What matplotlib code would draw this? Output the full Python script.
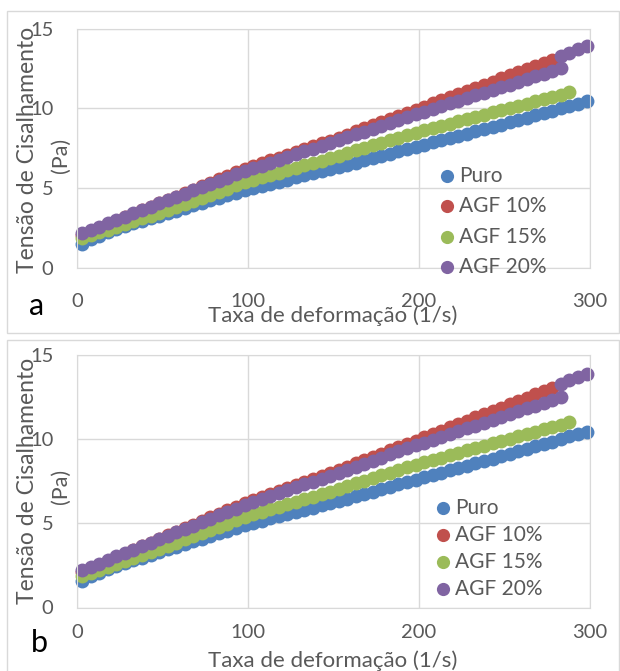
import matplotlib
matplotlib.use("Agg")
import matplotlib.pyplot as plt
from matplotlib.patches import Rectangle

W, H = 620, 671
INK = "#595959"
GRID = "#d9d9d9"
COLORS = ["#4f81bd", "#c0504d", "#9bbb59", "#8064a2"]
NAMES = ["Puro", "AGF 10%", "AGF 15%", "AGF 20%"]

plt.rcParams.update({"font.family": "Lato", "font.size": 14,
                     "text.color": INK})

# shear rate (1/s)
RATE = [3, 8, 13, 18, 23, 28, 33, 38, 43, 48, 53, 58, 63, 68, 73, 78, 83, 88,
        93, 98, 103, 108, 113, 118, 123, 128, 133, 138, 143, 148, 153, 158,
        163, 168, 173, 178, 183, 188, 193, 198, 203, 208, 213, 218, 223, 228,
        233, 238, 243, 248, 253, 258, 263, 268, 273, 278, 283, 288, 293, 298]

# shear stress (Pa)
PURO = [1.55, 1.85, 2.05, 2.26, 2.47, 2.65, 2.81, 2.97, 3.13, 3.29,
        3.45, 3.61, 3.77, 3.93, 4.09, 4.25, 4.41, 4.57, 4.73, 4.89,
        5.03, 5.16, 5.29, 5.42, 5.55, 5.68, 5.81, 5.94, 6.07, 6.20,
        6.33, 6.47, 6.61, 6.75, 6.89, 7.03, 7.17, 7.31, 7.45, 7.59,
        7.73, 7.87, 8.01, 8.15, 8.29, 8.43, 8.57, 8.71, 8.85, 8.99,
        9.13, 9.28, 9.43, 9.57, 9.72, 9.86, 10.01, 10.16, 10.30, 10.45]
AGF10 = [2.10, 2.32, 2.54, 2.75, 2.97, 3.19, 3.41, 3.63, 3.84, 4.06,
         4.28, 4.49, 4.71, 4.92, 5.14, 5.35, 5.57, 5.78, 6.00, 6.21,
         6.41, 6.58, 6.76, 6.93, 7.11, 7.28, 7.46, 7.63, 7.81, 7.98,
         8.17, 8.36, 8.56, 8.75, 8.95, 9.14, 9.34, 9.53, 9.73, 9.92,
         10.12, 10.31, 10.51, 10.70, 10.90, 11.09, 11.29, 11.49, 11.68, 11.88,
         12.07, 12.27, 12.46, 12.66, 12.85, 13.05]
AGF15 = [1.88, 2.06, 2.24, 2.41, 2.59, 2.77, 2.94, 3.12, 3.30, 3.48,
         3.66, 3.85, 4.04, 4.23, 4.42, 4.61, 4.80, 4.99, 5.18, 5.37,
         5.54, 5.69, 5.84, 5.99, 6.14, 6.29, 6.44, 6.59, 6.74, 6.89,
         7.05, 7.21, 7.37, 7.53, 7.69, 7.85, 8.01, 8.17, 8.33, 8.49,
         8.63, 8.77, 8.91, 9.05, 9.19, 9.33, 9.47, 9.61, 9.75, 9.89,
         10.02, 10.16, 10.30, 10.44, 10.58, 10.72, 10.86, 11.00]
AGF20 = [2.20, 2.41, 2.61, 2.82, 3.03, 3.24, 3.44, 3.65, 3.86, 4.07,
         4.27, 4.47, 4.67, 4.87, 5.07, 5.27, 5.47, 5.67, 5.87, 6.07,
         6.26, 6.43, 6.61, 6.78, 6.96, 7.13, 7.31, 7.48, 7.66, 7.83,
         8.01, 8.19, 8.37, 8.55, 8.73, 8.91, 9.09, 9.27, 9.45, 9.63,
         9.80, 9.97, 10.14, 10.31, 10.48, 10.65, 10.81, 10.98, 11.15, 11.32,
         11.49, 11.66, 11.83, 12.00, 12.16, 12.33, 12.50]
# extra AGF 20% points sitting on the upper branch at the end of the sweep
AGF20_TAIL_X = [283, 288, 293, 298]
AGF20_TAIL_Y = [13.30, 13.49, 13.69, 13.88]

X_TICKS = [0, 100, 200, 300]
Y_TICKS = [0, 5, 10, 15]


def fx(px):
    return px / W


def fy(py):
    return 1 - py / H


fig = plt.figure(figsize=(W / 100, H / 100), dpi=100)

# panel geometry in pixels
panels = [
    dict(box=(7, 11.5, 619, 333), top=28.5, bot=268.3, tick_y=302,
         xlab_y=316, tag="a", tag_xy=(37, 306), leg=(176, 30.3, 447),
         ylab_c=150),
    dict(box=(7, 340, 619, 680), top=355, bot=607.5, tick_y=633,
         xlab_y=661, tag="b", tag_xy=(39, 643), leg=(508, 27, 443),
         ylab_c=481),
]
series = [(RATE, PURO), (RATE, AGF10), (RATE, AGF15),
          (RATE[:len(AGF20)] + AGF20_TAIL_X, AGF20 + AGF20_TAIL_Y)]

for p in panels:
    x0, y0, x1, y1 = p["box"]
    fig.patches.append(Rectangle((fx(x0), fy(y1)), fx(x1 - x0), (y1 - y0) / H,
                                 transform=fig.transFigure, fill=False,
                                 ec=GRID, lw=1.0))
    ax = fig.add_axes([fx(77), fy(p["bot"]), fx(590 - 77),
                       (p["bot"] - p["top"]) / H])
    for (xs, ys), c in zip(series, COLORS):
        ax.plot(xs[:len(ys)], ys, "o", ms=10, mew=0, color=c, clip_on=False)
    ax.set_xlim(0, 300)
    ax.set_ylim(0, 15)
    ax.set_xticks(X_TICKS)
    ax.set_yticks(Y_TICKS)
    ax.grid(True, color=GRID, lw=1.0)
    ax.set_axisbelow(True)
    for s in ax.spines.values():
        s.set_color(GRID)
    ax.tick_params(length=0, labelcolor=INK, labelsize=14.5)
    ax.tick_params(axis="y", pad=17)
    ax.tick_params(axis="x", pad=(p["tick_y"] - 9 - p["bot"]) * 0.72)

    fig.text(fx(333), fy(p["xlab_y"]), "Taxa de deformação (1/s)",
             ha="center", va="center", fontsize=16, color=INK)
    fig.text(fx(28), fy(p["ylab_c"]), "Tensão de Cisalhamento",
             ha="center", va="center", rotation=90, fontsize=16.5, color=INK)
    fig.text(fx(61), fy(p["ylab_c"] + 5), "(Pa)",
             ha="center", va="center", rotation=90, fontsize=15.5, color=INK)
    fig.text(fx(p["tag_xy"][0]), fy(p["tag_xy"][1]), p["tag"],
             ha="center", va="center", fontsize=22, color="black")

    ly, dy, lx = p["leg"]
    for i, (name, c) in enumerate(zip(NAMES, COLORS)):
        fig.lines.append(plt.Line2D([fx(lx)], [fy(ly + i * dy)], marker="o",
                                    ms=9.5, mew=0, color=c, ls="none",
                                    transform=fig.transFigure))
        fig.text(fx(lx + 12), fy(ly + i * dy), name, ha="left", va="center",
                 fontsize=15, color=INK)

fig.savefig("out.png", dpi=100)
